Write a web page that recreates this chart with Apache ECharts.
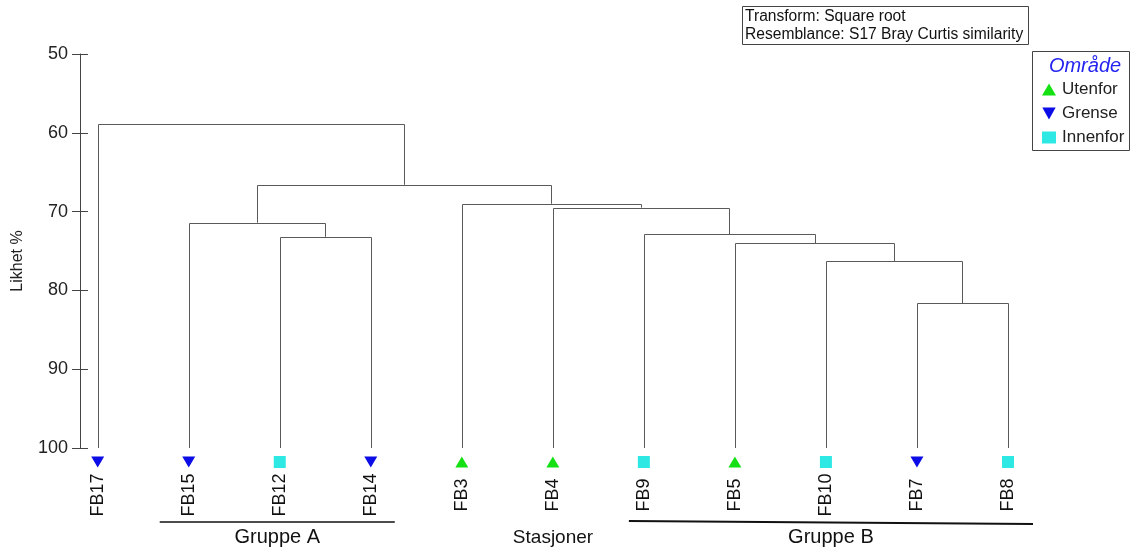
<!DOCTYPE html>
<html>
<head>
<meta charset="utf-8">
<script src="https://cdn.jsdelivr.net/npm/echarts@6/dist/echarts.min.js"></script>
<style>
html,body{margin:0;padding:0;background:#fff;}
#chart{width:1137px;height:552px;}
</style>
</head>
<body>
<div id="chart"></div>
<script>
// ---- data ----
const leaves   = ['FB17','FB15','FB12','FB14','FB3','FB4','FB9','FB5','FB10','FB7','FB8'];
const leafArea = ['Grense','Grense','Innenfor','Grense','Utenfor','Utenfor','Innenfor','Utenfor','Innenfor','Grense','Innenfor'];
const areas    = ['Utenfor','Grense','Innenfor'];
// merges C1..C10 in order: left node, right node, similarity (%)
const mergeLeft  = ['FB7','FB10','FB12','FB5','FB9','FB15','FB4','FB3','C6','FB17'];
const mergeRight = ['FB8','C1','FB14','C2','C4','C3','C5','C7','C8','C9'];
const mergeSim   = [81.6, 76.3, 73.2, 74.0, 72.9, 71.4, 69.5, 69.0, 66.6, 58.9];
const yTicks     = [50, 60, 70, 80, 90, 100];
const groupNames = ['Gruppe A','Gruppe B'];
const groupFrom  = ['FB15','FB9'];
const groupTo    = ['FB14','FB8'];
const infoLines  = ['Transform: Square root','Resemblance: S17 Bray Curtis similarity'];
const legendTitle = 'Område';
const xName = 'Stasjoner';
const yName = 'Likhet %';

// ---- build dendrogram segments ----
const LEAF_SIM = 100;
const nodePos = {}, nodeSim = {};
leaves.forEach((n,i)=>{ nodePos[n]=i; nodeSim[n]=LEAF_SIM; });
const dendroData = [];
mergeLeft.forEach((l,k)=>{
  const r = mergeRight[k], id = 'C'+(k+1);
  dendroData.push([nodePos[l], nodeSim[l], nodePos[r], nodeSim[r], mergeSim[k]]);
  nodePos[id] = (nodePos[l]+nodePos[r])/2;
  nodeSim[id] = mergeSim[k];
});

const colors = {Utenfor:'#14e014', Grense:'#0c0ce6', Innenfor:'#2ee8e4'};
const symbols = {Utenfor:'triangle', Grense:'triangle', Innenfor:'rect'};
const rotations = {Utenfor:0, Grense:180, Innenfor:0};
const sizes = {Utenfor:[13,11], Grense:[13,11], Innenfor:[12,12]};
const icons = {Utenfor:'triangle', Grense:'path://M0,0L10,0L5,9Z', Innenfor:'rect'};

const yMin = yTicks[0], yMax = yTicks[yTicks.length-1];
const font = '"Liberation Sans", Arial, sans-serif';

const scatterSeries = areas.map(a=>({
  name:a, type:'scatter', clip:false, silent:true,
  symbol:symbols[a], symbolRotate:rotations[a], symbolSize:sizes[a],
  symbolOffset:[0,14],
  itemStyle:{color:colors[a], opacity:1},
  data: leaves.map((n,i)=>leafArea[i]===a ? [i, LEAF_SIM] : null).filter(d=>d)
}));

const chart = echarts.init(document.getElementById('chart'), null, {renderer:'canvas'});
chart.setOption({
  animation:false,
  backgroundColor:'#fff',
  grid:{left:80, top:54, right:111, bottom:104},
  xAxis:{
    type:'value', min:-0.1944, max:10.198,
    axisLine:{show:false}, axisTick:{show:false}, axisLabel:{show:false}, splitLine:{show:false},
    name:xName, nameLocation:'middle', nameGap:80,
    nameTextStyle:{fontSize:19, color:'#111', fontFamily:font, verticalAlign:'top'}
  },
  yAxis:[{
    type:'value', inverse:true, min:yMin, max:yMax, interval:10, position:'left',
    axisLine:{show:true, onZero:false, lineStyle:{color:'#444', width:1}},
    axisTick:{show:true, inside:false, length:8, lineStyle:{color:'#444'}},
    axisLabel:{show:true, fontSize:18, color:'#222', margin:12, fontFamily:font},
    splitLine:{show:false}
  },{
    type:'value', inverse:true, min:yMin, max:yMax, interval:10, position:'left',
    axisLine:{show:false, onZero:false},
    axisTick:{show:true, inside:true, length:8, lineStyle:{color:'#444'}},
    axisLabel:{show:false}, splitLine:{show:false}
  }],
  legend:{
    orient:'vertical', left:1037, top:76, itemGap:7,
    itemWidth:14, itemHeight:12,
    textStyle:{fontSize:17, color:'#222', fontFamily:font, lineHeight:17, padding:[0,0,0,1]},
    data: areas.map(a=>({name:a, icon:icons[a], itemStyle:{color:colors[a]}})),
    selectedMode:false
  },
  graphic:[
    {type:'rect', shape:{x:742.5, y:6.5, width:286, height:38}, style:{fill:'#fff', stroke:'#444', lineWidth:1}},
    {type:'text', x:745, y:17, style:{text:infoLines[0], fontSize:15.6, fill:'#111', fontFamily:font, verticalAlign:'middle'}},
    {type:'text', x:745, y:35, style:{text:infoLines[1], fontSize:15.6, fill:'#111', fontFamily:font, verticalAlign:'middle'}},
    {type:'rect', z:-1, shape:{x:1032.5, y:51.5, width:97, height:99}, style:{fill:'#fff', stroke:'#444', lineWidth:1}},
    {type:'text', x:1085, y:66, style:{text:legendTitle, fontSize:20, fontStyle:'italic', fill:'#2424f0', fontFamily:font, align:'center', verticalAlign:'middle'}},
    {type:'text', x:18, y:261, rotation:Math.PI/2, style:{text:yName, fontSize:16, fill:'#222', fontFamily:font, align:'center', verticalAlign:'middle'}}
  ],
  series:[
    {
      type:'custom', name:'dendrogram', silent:true, clip:false,
      encode:{x:[0,2], y:[1,3,4]},
      data: dendroData,
      renderItem:(params, api)=>{
        const xl=api.value(0), hl=api.value(1), xr=api.value(2), hr=api.value(3), h=api.value(4);
        const p1=api.coord([xl,hl]), p2=api.coord([xl,h]), p3=api.coord([xr,h]), p4=api.coord([xr,hr]);
        const r = v=>Math.round(v)+0.5;
        return {type:'polyline', shape:{points:[[r(p1[0]),p1[1]],[r(p2[0]),r(p2[1])],[r(p3[0]),r(p3[1])],[r(p4[0]),p4[1]]]},
          style:{stroke:'#5a5a5a', lineWidth:1, fill:null}};
      }
    },
    ...scatterSeries,
    {
      type:'custom', name:'leafLabels', silent:true, clip:false,
      data: leaves.map((n,i)=>[i, LEAF_SIM]),
      renderItem:(params, api)=>{
        const p = api.coord([api.value(0), api.value(1)]);
        return {type:'text', x:p[0], y:p[1]+47, rotation:Math.PI/2,
          style:{text:leaves[params.dataIndex], fontSize:18, fill:'#111', fontFamily:font, align:'center', verticalAlign:'middle'}};
      }
    },
    {
      type:'custom', name:'groups', silent:true, clip:false,
      data: groupNames.map((g,k)=>[leaves.indexOf(groupFrom[k]), leaves.indexOf(groupTo[k]), LEAF_SIM]),
      renderItem:(params, api)=>{
        const k = params.dataIndex;
        const a = api.coord([api.value(0), api.value(2)]);
        const b = api.coord([api.value(1), api.value(2)]);
        const padL = k===0 ? 29 : 15, padR = k===0 ? 24 : 25;
        const yL = a[1] + (k===0 ? 74 : 73), yR = a[1] + (k===0 ? 74 : 76);
        const x1 = a[0]-padL, x2 = b[0]+padR;
        return {type:'group', children:[
          {type:'line', shape:{x1:x1, y1:yL, x2:x2, y2:yR}, style:{stroke:'#111', lineWidth:k===0?1.3:2}},
          {type:'text', x:(x1+x2)/2, y:a[1]+89, style:{text:groupNames[k], fontSize:20, fill:'#111', fontFamily:font, align:'center', verticalAlign:'middle'}}
        ]};
      }
    }
  ]
});
</script>
</body>
</html>
